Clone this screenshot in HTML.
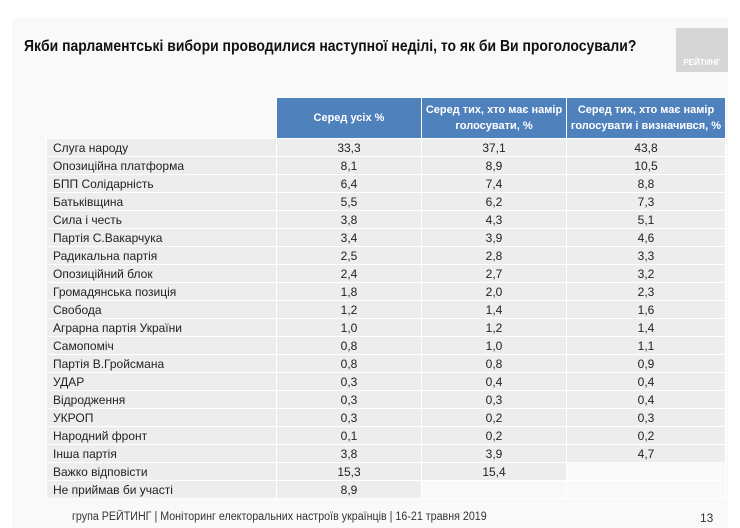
<!DOCTYPE html>
<html><head><meta charset="utf-8"><style>
body{margin:0;width:740px;height:528px;background:#fff;font-family:"Liberation Sans",sans-serif;position:relative;overflow:hidden}
.slide{position:absolute;left:12px;top:18px;width:716px;height:510px;background:#f9f9f9}
.title{position:absolute;left:24px;top:38px;font-size:15.5px;font-weight:bold;color:#111;transform:scaleX(.9);transform-origin:left}
.logo{position:absolute;left:676px;top:28px;width:52px;height:44px;background:#d6d6d6;color:#fff;font-size:8px;font-weight:bold;text-align:center;line-height:70px}
table{position:absolute;left:46px;top:97px;border-collapse:collapse;font-size:12px;color:#222}
td{height:17px;padding:0;border:1px solid #fff;background:#ededed;text-align:center}
td.l{text-align:left;padding-left:6px;width:223px}
th{background:#4f81bd;color:#fff;font-weight:bold;font-size:11px;border:1px solid #fff;height:40px;padding:0;line-height:16px}
td.e{background:transparent}
.foot{position:absolute;left:72px;top:511px;font-size:11.5px;color:#333;transform:scaleX(.93);transform-origin:left}
.pg{position:absolute;left:700px;top:511px;font-size:12px;color:#333}
</style></head><body>
<div class="slide"></div>
<div class="title">Якби парламентські вибори проводилися наступної неділі, то як би Ви проголосували?</div>
<div class="logo">РЕЙТИНГ</div>
<table>
<tr><th style="background:transparent;border:none;width:229px"></th><th style="width:144px">Серед усіх %</th><th style="width:144px">Серед тих, хто має намір<br>голосувати, %</th><th style="width:158px">Серед тих, хто має намір<br>голосувати і визначився, %</th></tr>
<tr><td class="l">Слуга народу</td><td>33,3</td><td>37,1</td><td>43,8</td></tr>
<tr><td class="l">Опозиційна платформа</td><td>8,1</td><td>8,9</td><td>10,5</td></tr>
<tr><td class="l">БПП Солідарність</td><td>6,4</td><td>7,4</td><td>8,8</td></tr>
<tr><td class="l">Батьківщина</td><td>5,5</td><td>6,2</td><td>7,3</td></tr>
<tr><td class="l">Сила і честь</td><td>3,8</td><td>4,3</td><td>5,1</td></tr>
<tr><td class="l">Партія С.Вакарчука</td><td>3,4</td><td>3,9</td><td>4,6</td></tr>
<tr><td class="l">Радикальна партія</td><td>2,5</td><td>2,8</td><td>3,3</td></tr>
<tr><td class="l">Опозиційний блок</td><td>2,4</td><td>2,7</td><td>3,2</td></tr>
<tr><td class="l">Громадянська позиція</td><td>1,8</td><td>2,0</td><td>2,3</td></tr>
<tr><td class="l">Свобода</td><td>1,2</td><td>1,4</td><td>1,6</td></tr>
<tr><td class="l">Аграрна партія України</td><td>1,0</td><td>1,2</td><td>1,4</td></tr>
<tr><td class="l">Самопоміч</td><td>0,8</td><td>1,0</td><td>1,1</td></tr>
<tr><td class="l">Партія В.Гройсмана</td><td>0,8</td><td>0,8</td><td>0,9</td></tr>
<tr><td class="l">УДАР</td><td>0,3</td><td>0,4</td><td>0,4</td></tr>
<tr><td class="l">Відродження</td><td>0,3</td><td>0,3</td><td>0,4</td></tr>
<tr><td class="l">УКРОП</td><td>0,3</td><td>0,2</td><td>0,3</td></tr>
<tr><td class="l">Народний фронт</td><td>0,1</td><td>0,2</td><td>0,2</td></tr>
<tr><td class="l">Інша партія</td><td>3,8</td><td>3,9</td><td>4,7</td></tr>
<tr><td class="l">Важко відповісти</td><td>15,3</td><td>15,4</td><td class="e"></td></tr>
<tr><td class="l">Не приймав би участі</td><td>8,9</td><td class="e"></td><td class="e"></td></tr>
</table>
<div class="foot">група РЕЙТИНГ | Моніторинг електоральних настроїв українців | 16-21 травня 2019</div>
<div class="pg">13</div>
</body></html>
